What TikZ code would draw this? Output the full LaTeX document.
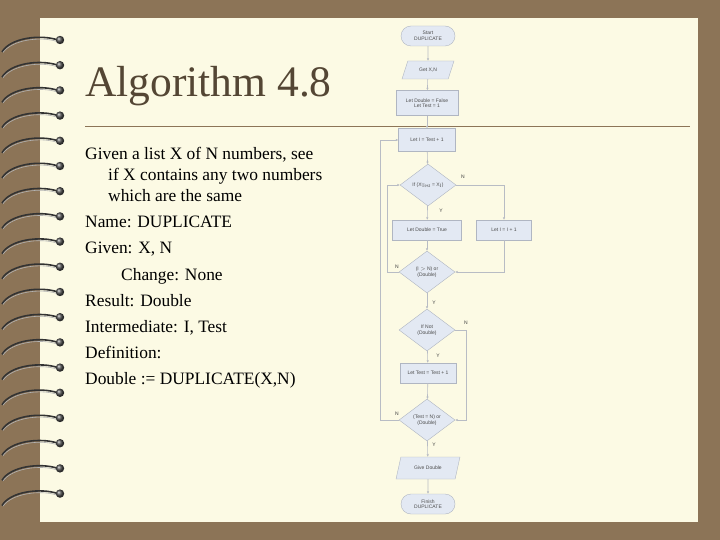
\documentclass[tikz,border=0pt]{standalone}
\usepackage{fontspec}
\setmainfont{Liberation Serif}
\newfontfamily\fc{Liberation Sans}
\usetikzlibrary{shapes.geometric,shapes.misc,arrows.meta}
\definecolor{brownbg}{HTML}{8C7457}
\definecolor{cream}{HTML}{FCFAE4}
\definecolor{boxfill}{HTML}{E3E9F3}
\definecolor{boxline}{HTML}{B0B6C2}
\definecolor{lin}{HTML}{B8BCC4}
\tikzset{
 fcbase/.style={draw=boxline,fill=boxfill,font=\fc\fontsize{5}{5.5}\selectfont,text=black!70,align=center,inner sep=1pt},
 proc/.style={fcbase,rectangle,minimum width=#1,minimum height=20},
 term/.style={fcbase,rounded rectangle,minimum width=56,minimum height=20},
 io/.style={fcbase,trapezium,trapezium left angle=65,trapezium right angle=115,minimum width=#1,minimum height=18,trapezium stretches=true},
 dec/.style={fcbase,diamond,minimum width=56,minimum height=42,aspect=1.4},
 con/.style={draw=lin,line width=0.6pt,-{Latex[length=2.5pt,width=2.5pt]}},
 lab/.style={font=\fc\fontsize{5}{5}\selectfont,text=black!75},
 body/.style={anchor=base west,font=\fontsize{17.4}{18}\selectfont,inner sep=0}
}
\begin{document}
\begin{tikzpicture}[x=1pt,y=-1pt]
\useasboundingbox (0,0) rectangle (720,540);
\fill[brownbg] (0,0) rectangle (720,540);
\fill[cream] (40,18) rectangle (698,522);
\draw[brownbg,line width=0.8pt] (85,126) -- (690,126);
% rings
\foreach \i in {0,...,18}{
  \pgfmathsetmacro\yy{40+\i*25.2}
  \draw[black!80,line width=1.6pt] (2,\yy+12) .. controls (10,\yy-2) and (40,\yy-6) .. (58,\yy);
  \draw[white!70!black,line width=0.6pt] (3,\yy+12.5) .. controls (12,\yy) and (40,\yy-4) .. (57,\yy+1.5);
  \shade[ball color=black!70] (60,\yy) circle (4.2);
}
\node[anchor=base west,font=\fontsize{43.5}{44}\selectfont,text=brownbg!60!black,inner sep=0] (title) at (85,97) {Algorithm 4.8};
\node[body] (t1) at (85,160) {Given a list X of N numbers, see};
\node[body] (t2) at (108,181) {if X contains any two numbers};
\node[body] (t3) at (108,202) {which are the same};
\node[body] (t4) at (85,228) {Name: DUPLICATE};
\node[body] (t5) at (85,254) {Given: X, N};
\node[body] (t6) at (121,280) {Change: None};
\node[body] (t7) at (85,306) {Result: Double};
\node[body] (t8) at (85,332) {Intermediate: I, Test};
\node[body] (t9) at (85,358) {Definition:};
\node[body] (t10) at (85,384) {Double := DUPLICATE(X,N)};
% flowchart
\node[term] (s) at (428,36) {Start\\DUPLICATE};
\node[io=52] (g) at (428,70) {Get X,N};
\node[proc=62,minimum height=25] (p1) at (427,103) {Let Double = False\\Let Test = 1};
\node[proc=57,minimum height=23] (p2) at (427,140) {Let I = Test + 1};
\node[dec] (d1) at (428,185) {If (X$_{\mathrm{Test}}$ = X$_{\mathrm{I}}$)};
\node[proc=69] (p3) at (427,230) {Let Double = True};
\node[proc=55] (p4) at (504,230) {Let I = I + 1};
\node[dec] (d2) at (427,272) {(I $>$ N) or\\(Double)};
\node[dec] (d3) at (427,330) {If Not\\(Double)};
\node[proc=56] (p5) at (428,373) {Let Test = Test + 1};
\node[dec] (d4) at (427,420) {(Test = N) or\\(Double)};
\node[io=64,minimum height=22] (g2) at (428,468) {Give Double};
\node[term] (f) at (428,504) {Finish\\DUPLICATE};
\draw[con] (s) -- (g);
\draw[con] (g) -- (p1);
\draw[con] (p1) -- (p2);
\draw[con] (p2) -- (d1);
\draw[con] (d1) -- (p3);
\draw[con] (p3) -- (d2);
\draw[con] (d2) -- (d3);
\draw[con] (d3) -- (p5);
\draw[con] (p5) -- (d4);
\draw[con] (d4) -- (g2);
\draw[con] (g2) -- (f);
\draw[con] (d1.east) -| (p4.north);
\draw[con] (p4.south) |- (d2.east);
\draw[con] (d2.west) -| (387,185) -- (d1.west);
\draw[con] (d4.west) -| (380,140) -- (p2.west);
\draw[con] (d3.east) -| (466,420) -- (d4.east);
\node[lab] (n1) at (463,177) {N};
\node[lab] (y1) at (441,211) {Y};
\node[lab] (n2) at (397,267) {N};
\node[lab] (y2) at (434,303) {Y};
\node[lab] (n3) at (466,323) {N};
\node[lab] (y3) at (438,356) {Y};
\node[lab] (n4) at (397,414) {N};
\node[lab] (y4) at (434,445) {Y};
\end{tikzpicture}
\end{document}
